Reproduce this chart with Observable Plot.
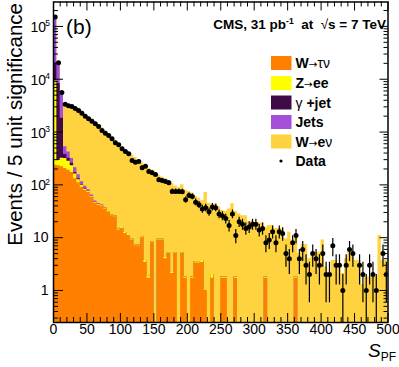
<!DOCTYPE html>
<html><head><meta charset="utf-8">
<script src="https://cdn.jsdelivr.net/npm/d3@7"></script>
<script src="https://cdn.jsdelivr.net/npm/@observablehq/plot@0.6"></script>
<style>
html,body{margin:0;padding:0;background:#fff;}
#wrap{position:relative;width:399px;height:367px;}
#wrap svg{position:absolute;left:0;top:0;}
</style></head><body><div id="wrap"></div>
<script>
// ---- data (bins of 5 units of S_PF, 0..500) ----
const binLow = d3.range(0, 500, 5);
const wtaunu = [234,230,220,205,190,171,130,110,90,78, 72,58,45,41,40,35,30,26,25,14,
  15,12,11,9,7,7,10,3.4,1.7,8, 0,9,9,4,5,2.1,5,0,5,1.7, 0,1.7,3.3,3.3,3.4,1,0,1.7,0,0,
  1.7,1.7,0,0,1.7,0,0,0,0,0, 0,0,0,1.7,0,0,0,0,0,0, 0,0,1.7,0,0,0,0,0,0,0,
  0,0,0,0,0,0,0,0,0,0, 0,0,0,0,0,0,0,0,0,0];
const zee = [9000,60,100,110,90,60,30,15,8,5, 3,2,1.5,1.3,1.2,1.1,1,0.8,0.8,0.6,
  0.6,0.5,0.5,0.4,0.3,0.3,0.4,0.3,0.2,0.3, 0,0.3,0.3,0.2,0.2,0.1,0.2,0,0.2,0.1, 0,0.1,0.2,0.2,0.3,0,0,0.3,0,0,
  0.1,0.1,0,0,0.1,0,0,0,0,0, 0,0,0,0.1,0,0,0,0,0,0, 0,0,0.1,0,0,0,0,0,0,0,
  0,0,0,0,0,0,0,0,0,0, 0,0,0,0,0,0,0,0,0,0];
const gammajet = [11000,8000,1500,60,40,25,10,5,2,1, 0,0,0,0,0,0,0,0,0,0,
  0,0,0,0,0,0,0,0,0,0, 0,0,0,0,0,0,0,0,0,0, 0,0,0,0,0,0,0,0,0,0,
  0,0,0,0,0,0,0,0,0,0, 0,0,0,0,0,0,0,0,0,0, 0,0,0,0,0,0,0,0,0,0,
  0,0,0,0,0,0,0,0,0,0, 0,0,0,0,0,0,0,0,0,0];
const jets = [130000,12000,3500,150,100,60,40,25,15,10, 6,4,3,2,1,0.5,0.3,0.2,0,0,
  0,0,0,0,0,0,0,0,0,0, 0,0,0,0,0,0,0,0,0,0, 0,0,0,0,0,0,0,0,0,0,
  0,0,0,0,0,0,0,0,0,0, 0,0,0,0,0,0,0,0,0,0, 0,0,0,0,0,0,0,0,0,0,
  0,0,0,0,0,0,0,0,0,0, 0,0,0,0,0,0,0,0,0,0];
const wenu = [0,200,300,2975,2880,2834,2740,2545,2335,2057, 1869,1686,1501,1336,1159,1014,889,773,664,585,
  504,437,388,360,322,292,250,236,203,182, 170,141,131,126,110,103,90,88,95,78,
  75,68,57,52,46.5,71,45,40,44,38, 31,30,35,44,30,28,26,26,20,21,
  18,19,19,14,17,17,15,15,15,9.5, 12.7,9,7.8,5,7.4,7.4,4,5.3,5.3,5.3,
  9,2.8,2.1,3.7,3.7,2.8,2.1,4,6.2,5, 3.7,3.7,1.3,1.8,1.8,1.8,1.8,11,3.7,3.7];
const dataCounts = [150000,20500,5620,3375,3150,3055,2800,2565,2280,2000, 1790,1610,1435,1277,1072,953,862,747,627,575,
  483,430,388,290,269,277,211,226,180,170, 157,125,121,116,110,75,75,75,74,52,
  63,60,47,42,35,37,31,38,37,28, 26,23,17,28,11,20,18,15,16,18,
  18,14,15,8,9,13,8,13,12,5, 4,8,11,4,6,3,2,5,4,3,
  5,2,2,7,3,3,1,3,6,5, 0,3,2,1,3,2,1,0,5,2];

const seriesNames = ["W\u2192\u03c4\u03bd","Z\u2192ee","\u03b3 +jet","Jets","W\u2192e\u03bd"];
const seriesColors = ["#ff8000","#ffff00","#400a48","#a64dd9","#ffd23f"];
const xMajor = [0,50,100,150,200,250,300,350,400,450,500];
const yDecades = [1,10,100,1000,10000,100000];

// ---- geometry ----
const W = 399, H = 367, mL = 53, mR = 11.5, mT = 1.5, mB = 45;
const plotW = W - mL - mR, plotH = H - mT - mB;
const yDomain = [0.2477, 2.9e5];
const floor = 0.2;

// cumulative stack (bottom -> top)
const layers = [wtaunu, zee, gammajet, jets, wenu];
let run = binLow.map(() => 0);
const cumul = layers.map(arr => (run = run.map((c, i) => c + arr[i])));
function stepRows(vals) {
  const rows = binLow.map((x, i) => ({x, y1: floor, y2: Math.max(vals[i], floor)}));
  rows.push({x: 500, y1: floor, y2: rows[rows.length - 1].y2});
  return rows;
}
const areaMarks = [];
for (let k = layers.length - 1; k >= 0; k--) {
  areaMarks.push(Plot.areaY(stepRows(cumul[k]), {x: "x", y1: "y1", y2: "y2", curve: "step-after", fill: seriesColors[k], clip: true}));
}
const pts = binLow.map((x, i) => ({xc: x + 2.5, n: dataCounts[i],
  lo: Math.max(dataCounts[i] - Math.sqrt(dataCounts[i]), floor), hi: dataCounts[i] + Math.sqrt(dataCounts[i])}))
  .filter(d => d.n > 0);

const xMinor = d3.range(0, 501, 10).filter(v => v % 50 !== 0);
const yMinor = [];
for (const d of [0.1,1,10,100,1000,10000,100000]) for (let m = 2; m <= 9; m++) { const v = d*m; if (v > yDomain[0] && v < yDomain[1]) yMinor.push(v); }

const chart = Plot.plot({
  width: W, height: H, marginLeft: mL, marginRight: mR, marginTop: mT, marginBottom: mB,
  style: {fontFamily: "'Liberation Sans', Arial, sans-serif", background: "transparent", overflow: "visible"},
  x: {domain: [0, 500], axis: null},
  y: {type: "log", domain: yDomain, axis: null},
  marks: [
    ...areaMarks,
    Plot.ruleX(pts, {x: "xc", y1: "lo", y2: "hi", stroke: "black", strokeWidth: 1.2, clip: true}),
    Plot.dot(pts, {x: "xc", y: "n", r: 2.5, fill: "black", stroke: "none", clip: true}),
    // inside ticks
    Plot.tickX(xMinor, {x: d => d, insetTop: plotH - 5, stroke: "black"}),
    Plot.tickX(xMajor, {x: d => d, insetTop: plotH - 9, stroke: "black"}),
    Plot.tickX(xMinor, {x: d => d, insetBottom: plotH - 5, stroke: "black"}),
    Plot.tickX(xMajor, {x: d => d, insetBottom: plotH - 9, stroke: "black"}),
    Plot.tickY(yMinor, {y: d => d, insetRight: plotW - 5, stroke: "black"}),
    Plot.tickY(yDecades, {y: d => d, insetRight: plotW - 10, stroke: "black"}),
    Plot.tickY(yMinor, {y: d => d, insetLeft: plotW - 4, stroke: "black"}),
    Plot.tickY(yDecades, {y: d => d, insetLeft: plotW - 8, stroke: "black"}),
    Plot.frame({stroke: "black", strokeWidth: 1.5}),
    // tick labels
    Plot.text(xMajor, {x: d => d, frameAnchor: "bottom", dy: 11, fontSize: 14, fill: "black"}),
    Plot.text(yDecades.slice(0, 2), {y: d => d, frameAnchor: "left", dx: -5, textAnchor: "end", fontSize: 14, fill: "black", text: d => String(d)}),
    Plot.text(yDecades.slice(2), {y: d => d, frameAnchor: "left", dx: -7.5, dy: 1, textAnchor: "end", fontSize: 14, fill: "black", text: d => "10"}),
    Plot.text(yDecades.slice(2), {y: d => d, frameAnchor: "left", dx: -3.5, dy: -3, textAnchor: "end", fontSize: 8.5, fill: "black", text: d => String(Math.round(Math.log10(d)))})
  ]
});
const wrap = document.getElementById("wrap");
wrap.appendChild(chart);

// ---- overlay texts & legend ----
const NS = "http://www.w3.org/2000/svg";
const ov = d3.select(wrap).append(() => document.createElementNS(NS, "svg"))
  .attr("width", W).attr("height", H).style("font-family", "'Liberation Sans', Arial, sans-serif");
ov.append("text").attr("transform", "translate(22,3) rotate(-90)").attr("text-anchor", "end")
  .attr("font-size", 20.5).text("Events / 5 unit significance");
ov.append("text").attr("x", 66).attr("y", 34).attr("font-size", 21).text("(b)");
const cms = ov.append("text").attr("x", 386).attr("y", 29).attr("text-anchor", "end").attr("font-size", 13.5).attr("font-weight", "bold");
cms.append("tspan").text("CMS, 31 pb");
cms.append("tspan").attr("dy", -5).attr("font-size", 8.5).text("-1");
cms.append("tspan").attr("dy", 5).text("\u00a0 at \u00a0");
cms.append("tspan").attr("font-weight", "normal").text("\u221a");
cms.append("tspan").text("s = 7 TeV");
// x title
const xt = ov.append("text").attr("x", 368).attr("y", 357).attr("font-size", 19);
xt.append("tspan").attr("font-style", "italic").text("S");
xt.append("tspan").attr("dy", 4).attr("font-size", 12).text("PF");
// legend
const legendLabels = [
  [["W", "bold"], ["\u2192", "arrow"], ["\u03c4\u03bd", "normal"]],
  [["Z", "bold"], ["\u2192", "arrow"], ["ee", "bold"]],
  [["\u03b3", "normal"], [" +jet", "bold"]],
  [["Jets", "bold"]],
  [["W", "bold"], ["\u2192", "arrow"], ["e", "bold"], ["\u03bd", "normal"]]
];
const rowY = [63, 83, 102.5, 122, 141.5];
legendLabels.forEach((parts, k) => {
  ov.append("rect").attr("x", 271).attr("y", rowY[k] - 7).attr("width", 20.5).attr("height", 14).attr("fill", seriesColors[k]);
  const t = ov.append("text").attr("x", 295.5).attr("y", rowY[k] + 5).attr("font-size", 14);
  parts.forEach(([s, w]) => {
    const sp = t.append("tspan").text(s);
    if (w === "arrow") sp.attr("font-weight", "normal").attr("font-family", "'DejaVu Sans', sans-serif").attr("font-size", 10.5);
    else sp.attr("font-weight", w);
  });
});
ov.append("circle").attr("cx", 281).attr("cy", 161).attr("r", 1.6).attr("fill", "black");
ov.append("text").attr("x", 295.5).attr("y", 166).attr("font-size", 14).attr("font-weight", "bold").text("Data");
</script></body></html>
